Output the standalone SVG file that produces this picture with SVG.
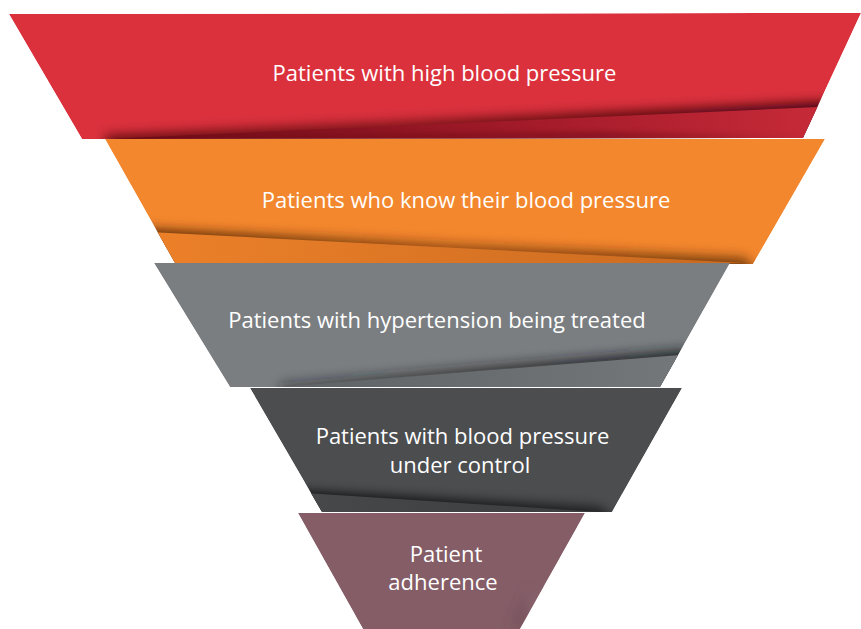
<svg xmlns="http://www.w3.org/2000/svg" width="861" height="629" viewBox="0 0 861 629">
<style>
  .lbl { font-family: "Open Sans", "Noto Sans", "Liberation Sans", sans-serif; font-size: 22px; fill: #ffffff; text-anchor: middle; }
</style>
<defs>
  <filter id="blur" x="-10%" y="-100%" width="120%" height="300%"><feGaussianBlur stdDeviation="6"/></filter>
  <filter id="blur2" x="-10%" y="-100%" width="120%" height="300%"><feGaussianBlur stdDeviation="3"/></filter>
  <clipPath id="c1"><polygon points="9,14 861,13 803,138 82,139"/></clipPath>
  <clipPath id="c2"><polygon points="105,139 825,139 753,264 175,263"/></clipPath>
  <clipPath id="c3"><polygon points="154,263 730,263 660,387 230,387"/></clipPath>
  <clipPath id="c4"><polygon points="250,388 682,388 612,512 322,512"/></clipPath>
  <clipPath id="c5"><polygon points="298,513 585,513 520,629 363,629"/></clipPath>
  <linearGradient id="sh1" gradientUnits="userSpaceOnUse" x1="105" y1="0" x2="830" y2="0">
    <stop offset="0" stop-color="#3a0008" stop-opacity="0.7"/>
    <stop offset="0.4" stop-color="#3a0008" stop-opacity="0.6"/>
    <stop offset="1" stop-color="#3a0008" stop-opacity="0.95"/>
  </linearGradient>
  <linearGradient id="st1" gradientUnits="userSpaceOnUse" x1="105" y1="0" x2="818" y2="0">
    <stop offset="0" stop-color="#6a0a16"/>
    <stop offset="0.6" stop-color="#A41B2A"/>
    <stop offset="1" stop-color="#C62A38"/>
  </linearGradient>
  <linearGradient id="sh2" gradientUnits="userSpaceOnUse" x1="157" y1="0" x2="745" y2="0">
    <stop offset="0" stop-color="#4a2000" stop-opacity="0.95"/>
    <stop offset="0.5" stop-color="#4a2000" stop-opacity="0.55"/>
    <stop offset="1" stop-color="#4a2000" stop-opacity="0.75"/>
  </linearGradient>
  <linearGradient id="st2" gradientUnits="userSpaceOnUse" x1="157" y1="0" x2="745" y2="0">
    <stop offset="0" stop-color="#EC8029"/>
    <stop offset="1" stop-color="#C96A20"/>
  </linearGradient>
  <linearGradient id="sh3" gradientUnits="userSpaceOnUse" x1="250" y1="0" x2="680" y2="0">
    <stop offset="0" stop-color="#1a1c1e" stop-opacity="0.4"/>
    <stop offset="1" stop-color="#1a1c1e" stop-opacity="0.9"/>
  </linearGradient>
  <linearGradient id="st3" gradientUnits="userSpaceOnUse" x1="250" y1="0" x2="680" y2="0">
    <stop offset="0" stop-color="#5E6164"/>
    <stop offset="1" stop-color="#74777A"/>
  </linearGradient>
  <linearGradient id="sh4" gradientUnits="userSpaceOnUse" x1="311" y1="0" x2="612" y2="0">
    <stop offset="0" stop-color="#000000" stop-opacity="0.85"/>
    <stop offset="1" stop-color="#000000" stop-opacity="0.6"/>
  </linearGradient>
  <linearGradient id="st4" gradientUnits="userSpaceOnUse" x1="311" y1="0" x2="612" y2="0">
    <stop offset="0" stop-color="#46484A"/>
    <stop offset="1" stop-color="#3A3C3E"/>
  </linearGradient>
  <linearGradient id="curl" gradientUnits="userSpaceOnUse" x1="505" y1="0" x2="535" y2="0">
    <stop offset="0" stop-color="#5a3a42" stop-opacity="0"/>
    <stop offset="0.6" stop-color="#5a3a42" stop-opacity="0.35"/>
    <stop offset="1" stop-color="#a07d86" stop-opacity="0.4"/>
  </linearGradient>
</defs>

<g id="band-high-bp" clip-path="url(#c1)">
  <polygon points="9,14 861,13 803,138 82,139" fill="#DB313D"/>
  <polygon points="105,135 818,102 860,102 860,150 105,150" fill="url(#sh1)" filter="url(#blur)"/>
  <polygon points="105,139 818,107 803,138" fill="url(#st1)"/>
  <polygon points="105,139 600,133 803,138" fill="#4a0510" opacity="0.5" filter="url(#blur2)"/>
  <text class="lbl" x="444.5" y="80.5">Patients with high blood pressure</text>
</g>

<g id="band-know-bp" clip-path="url(#c2)">
  <polygon points="105,139 825,139 753,264 175,263" fill="#F3872D"/>
  <polygon points="100,227 745,258 760,275 100,275" fill="url(#sh2)" filter="url(#blur)"/>
  <polygon points="150,232 745,263 175,263" fill="url(#st2)"/>
  <text class="lbl" x="466" y="207.5">Patients who know their blood pressure</text>
</g>

<g id="band-treated" clip-path="url(#c3)">
  <polygon points="154,263 730,263 660,387 230,387" fill="#7B7E81"/>
  <polygon points="280,383 680,350 740,350 740,400 280,400" fill="url(#sh3)" filter="url(#blur)"/>
  <polygon points="280,387 680,355 660,387" fill="url(#st3)"/>
  <text class="lbl" x="437" y="328">Patients with hypertension being treated</text>
</g>

<g id="band-controlled" clip-path="url(#c4)">
  <polygon points="250,388 682,388 612,512 322,512" fill="#4B4D4F"/>
  <polygon points="240,488 600,507 620,525 240,525" fill="url(#sh4)" filter="url(#blur)"/>
  <polygon points="305,493 600,512 322,512" fill="url(#st4)"/>
  <text class="lbl" x="462.5" y="443.5">Patients with blood pressure</text>
  <text class="lbl" x="460" y="472.5">under control</text>
</g>

<g id="band-adherence" clip-path="url(#c5)">
  <polygon points="298,513 585,513 520,629 363,629" fill="#845D67"/>
  <polygon points="505,629 528,590 540,600 530,629" fill="url(#curl)" filter="url(#blur)"/>
  <text class="lbl" x="446" y="561.5">Patient</text>
  <text class="lbl" x="443" y="590">adherence</text>
</g>

<g id="connectors"></g>
</svg>
